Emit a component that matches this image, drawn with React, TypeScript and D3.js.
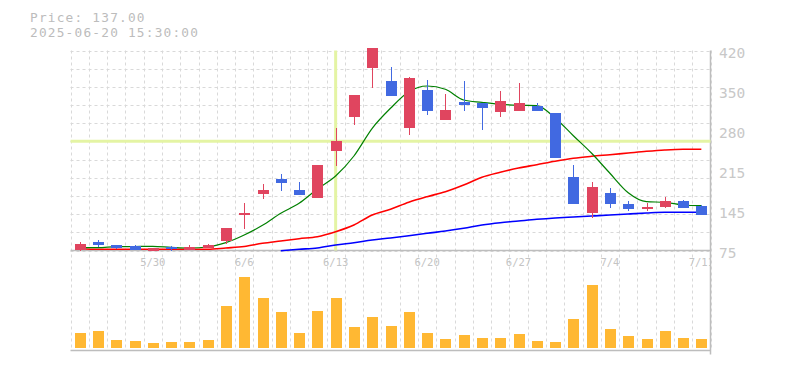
import React, { useEffect, useRef } from 'react';
import * as d3 from 'd3';

// trading days shown on the chart (index 4 = 5/30 ... index 34 = 7/11)
const dates = [
  '5/26', '5/27', '5/28', '5/29', '5/30', '6/2', '6/3', '6/4', '6/5', '6/6',
  '6/9', '6/10', '6/11', '6/12', '6/13', '6/16', '6/17', '6/18', '6/19', '6/20',
  '6/23', '6/24', '6/25', '6/26', '6/27', '6/30', '7/1', '7/2', '7/3', '7/4',
  '7/7', '7/8', '7/9', '7/10', '7/11',
];
const xTickLabels = ['5/30', '6/6', '6/13', '6/20', '6/27', '7/4', '7/11'];

const opens = [
  76, 89.7, 84.5, 82.8, 75, 81, 76, 79.3, 91.4, 136.8,
  172.5, 198.3, 179.4, 165.6, 246.6, 305.3, 389.8, 367.4, 286.3, 351.9,
  300.1, 331.2, 329.4, 313.9, 315.6, 324.3, 312.2, 201.8, 139.7, 174.2,
  155.2, 146.6, 150, 160.4, 151.8,
];
const highs = [
  89.7, 93.1, 85, 84.5, 79.3, 82.8, 84.5, 86.2, 113.8, 156.9,
  189.7, 206.9, 193.2, 222.5, 286.3, 343.2, 424.3, 391.5, 374.3, 369.1,
  345, 367.4, 329.4, 350.1, 363.9, 329.4, 312.2, 222.5, 193.2, 182.8,
  160.4, 156.9, 167.3, 162.1, 153.5,
];
const lows = [
  75, 81, 77.6, 75.9, 75, 75, 76, 79.3, 86.2, 112.1,
  163.8, 177.6, 170.7, 165.6, 220.8, 291.5, 355.3, 341.5, 274.2, 308.7,
  300.1, 315.6, 282.9, 305.3, 315.6, 315.6, 234.6, 155.2, 131.1, 148.3,
  143.1, 143.1, 148.3, 148.3, 137,
];
const closes = [
  86, 84.5, 79.3, 75.9, 79.3, 79.3, 81, 84.5, 113.8, 140.2,
  179.4, 191.4, 170.7, 222.5, 263.9, 343.2, 424.3, 341.5, 372.6, 315.6,
  317.4, 326, 320.8, 332.9, 329.4, 315.6, 234.6, 155.2, 184.5, 155.2,
  146.6, 150, 160.4, 148.3, 137,
];
// volume in thousands of shares
const volumes = [
  147, 167, 77, 67, 47, 57, 57, 77, 417, 707,
  497, 357, 147, 367, 497, 207, 307, 217, 357, 147,
  87, 127, 97, 97, 137, 67, 57, 287, 627, 187,
  117, 87, 167, 97, 87,
];
// moving averages (short / medium / long), null = not drawn
const maShort = [
  79.8, 79.8, 81.6, 81.9, 82.2, 80.5, 79.3, 81, 88.5, 101.7,
  118.5, 139.2, 156.4, 181.1, 203.5, 238, 285.8, 320.3, 348.9, 358.8,
  353.1, 334.6, 330.6, 327.2, 325.5, 324.8, 303.6, 273, 242.7, 208.2,
  174.7, 159.2, 158.1, 153.5, 152.3,
];
const maMid = [
  78.1, 77.1, 77.1, 77.1, 77.1, 77.1, 77.1, 77.1, 79.3, 81.9,
  87.4, 91.4, 95.4, 98.8, 107.4, 119, 136.2, 146.1, 158.1, 167.8,
  176.4, 188, 201.3, 209.9, 217.3, 223, 228.9, 234, 237.5, 240.3,
  243.2, 246.1, 248.4, 249.6, 249.6,
];
const maLong: (number | null)[] = [
  null, null, null, null, null, null, null, null, null, null,
  null, 74.7, 77.1, 79.3, 84.5, 88.5, 93.1, 96.6, 100.5, 104.7,
  108.6, 113.3, 119, 123, 125.9, 128.8, 131.1, 132.8, 134.5, 136.2,
  138, 139.7, 140.9, 140.9, 140.9,
];
const yTickLabels = ['420', '350', '280', '215', '145', '75'];
const cursorPrice = 263.4;
const cursorIndex = 14;

const W = 785;
const H = 370;

const CandleChart: React.FC = () => {
  const svgRef = useRef<SVGSVGElement | null>(null);

  useEffect(() => {
    const svg = d3.select(svgRef.current);
    svg.selectAll('*').remove();

    const left = 70.5;
    const right = 710.5;
    const priceTop = 50.5;
    const priceBottom = 250.5;
    const volBottom = 348;
    const axisBottom = 350.5;

    const x = d3.scaleLinear().domain([-0.5, dates.length - 0.5]).range([left, right]);
    const y = d3.scaleLinear().domain([75, 420]).range([priceBottom, priceTop]);
    const yVol = d3.scaleLinear().domain([0, 800]).range([volBottom, volBottom - 80]);
    const bodyW = 11;

    const grid = svg.append('g').attr('stroke', '#d9d9d9').attr('stroke-dasharray', '3,3');
    // horizontal grid in the price panel
    d3.range(12).forEach(k => {
      const gy = Math.round(priceTop + (k * (priceBottom - priceTop)) / 11) + 0.5;
      grid.append('line').attr('x1', left).attr('x2', right).attr('y1', gy).attr('y2', gy);
    });
    // vertical grid at band edges, through both panels
    d3.range(dates.length + 1).forEach(k => {
      const gx = Math.round(x(k - 0.5)) + 0.5;
      grid.append('line').attr('x1', gx).attr('x2', gx).attr('y1', priceTop).attr('y2', axisBottom);
    });

    // axes
    const axis = svg.append('g').attr('stroke', '#bdbdbd').attr('stroke-width', 1.5);
    axis.append('line').attr('x1', left).attr('x2', right).attr('y1', priceBottom).attr('y2', priceBottom);
    axis.append('line').attr('x1', left).attr('x2', right).attr('y1', axisBottom).attr('y2', axisBottom);
    axis.append('line').attr('x1', right).attr('x2', right).attr('y1', priceTop).attr('y2', axisBottom + 4);

    // cursor cross
    const cross = svg.append('g').attr('stroke', '#e4f4a4').attr('stroke-width', 3);
    cross.append('line').attr('x1', left).attr('x2', right)
      .attr('y1', y(cursorPrice)).attr('y2', y(cursorPrice));
    cross.append('line').attr('x1', x(cursorIndex)).attr('x2', x(cursorIndex))
      .attr('y1', priceTop).attr('y2', priceBottom);

    // moving averages
    const drawLine = (vals: (number | null)[], color: string, width: number) => {
      const line = d3.line<number | null>()
        .defined(d => d !== null)
        .x((_, i) => x(i))
        .y(d => y(d as number))
        .curve(d3.curveMonotoneX);
      svg.append('path')
        .datum(vals)
        .attr('d', line)
        .attr('fill', 'none')
        .attr('stroke', color)
        .attr('stroke-width', width);
    };
    drawLine(maLong, '#0000ff', 1.6);
    drawLine(maMid, '#ff0000', 1.6);
    drawLine(maShort, '#008000', 1.2);

    // candles
    const up = '#e0455f';
    const down = '#4169e1';
    const candles = svg.append('g').attr('shape-rendering', 'crispEdges');
    dates.forEach((_, i) => {
      const o = opens[i];
      const c = closes[i];
      const col = c >= o ? up : down;
      const cx = Math.round(x(i));
      candles.append('rect')
        .attr('x', cx)
        .attr('width', 1)
        .attr('y', y(highs[i]))
        .attr('height', Math.max(1, y(lows[i]) - y(highs[i])))
        .attr('fill', col);
      candles.append('rect')
        .attr('x', cx - 5)
        .attr('width', bodyW)
        .attr('y', y(Math.max(o, c)))
        .attr('height', Math.max(1.5, Math.abs(y(o) - y(c))))
        .attr('fill', col);
    });

    // volume
    svg.append('g')
      .attr('shape-rendering', 'crispEdges')
      .selectAll('rect')
      .data(volumes)
      .enter()
      .append('rect')
      .attr('x', (_, i) => Math.round(x(i)) - 5)
      .attr('width', bodyW)
      .attr('y', d => yVol(d))
      .attr('height', d => volBottom - yVol(d))
      .attr('fill', '#ffb833');

    // price labels
    const font = '"DejaVu Sans Mono", monospace';
    yTickLabels.forEach((t, k) => {
      svg.append('text')
        .attr('x', 719)
        .attr('y', y(420 - k * 69) + 3)
        .attr('dominant-baseline', 'middle')
        .attr('font-family', font)
        .attr('font-size', 14.5)
        .attr('fill', '#c8c8c8')
        .text(t);
    });

    // date labels, clipped at the right axis
    svg.append('clipPath').attr('id', 'xclip')
      .append('rect').attr('x', 0).attr('y', 0).attr('width', right).attr('height', H);
    const xl = svg.append('g').attr('clip-path', 'url(#xclip)');
    xTickLabels.forEach(t => {
      const i = dates.indexOf(t);
      xl.append('text')
        .attr('x', x(i))
        .attr('y', 262.5)
        .attr('text-anchor', 'middle')
        .attr('dominant-baseline', 'middle')
        .attr('font-family', font)
        .attr('font-size', 10.5)
        .attr('fill', '#c4c4c4')
        .text(t);
    });

    // header
    const head = svg.append('g')
      .attr('font-family', font)
      .attr('font-size', 12.8)
      .attr('letter-spacing', 1.2)
      .attr('fill', '#bcbcbc');
    head.append('text').attr('x', 30).attr('y', 18.5).attr('dominant-baseline', 'middle')
      .text(`Price: ${closes[closes.length - 1].toFixed(2)}`);
    head.append('text').attr('x', 30).attr('y', 33.5).attr('dominant-baseline', 'middle')
      .text('2025-06-20 15:30:00');
  }, []);

  return (
    <div style={{ position: 'fixed', top: 0, left: 0, width: W, height: H, background: '#fff' }}>
      <svg ref={svgRef} width={W} height={H} />
    </div>
  );
};

export default CandleChart;
